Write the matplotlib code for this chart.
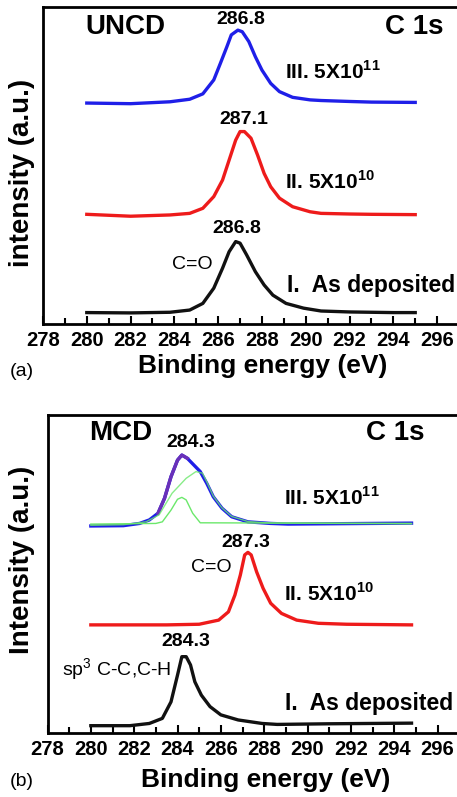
import matplotlib
matplotlib.use("Agg")
import matplotlib.pyplot as plt
from matplotlib.ticker import MultipleLocator

plt.rcParams['font.family'] = ['Liberation Sans', 'DejaVu Sans']
plt.rcParams['mathtext.fontset'] = 'custom'
plt.rcParams['mathtext.rm'] = 'Liberation Sans'
plt.rcParams['mathtext.bf'] = 'Liberation Sans:bold'

# ---- (a) UNCD, values (y in panel fraction) ----
a1_x = [280, 282, 283.8, 284.7, 285.3, 285.8, 286.2, 286.5, 286.8, 287.0, 287.3, 287.7, 288.1, 288.5, 289.1, 289.9, 290.7, 292, 293, 294, 295]
a1_y = [0.036, 0.035, 0.037, 0.044, 0.065, 0.113, 0.176, 0.228, 0.260, 0.255, 0.218, 0.165, 0.123, 0.091, 0.065, 0.050, 0.041, 0.038, 0.037, 0.036, 0.036]

a2_x = [280, 282, 283.8, 284.7, 285.3, 285.8, 286.2, 286.5, 286.8, 287.0, 287.2, 287.5, 287.8, 288.1, 288.4, 288.8, 289.4, 290.2, 290.7, 292, 293, 295]
a2_y = [0.346, 0.340, 0.344, 0.349, 0.365, 0.402, 0.454, 0.517, 0.580, 0.607, 0.607, 0.586, 0.533, 0.475, 0.433, 0.397, 0.370, 0.354, 0.349, 0.347, 0.346, 0.345]

a3_x = [280, 282, 283.8, 284.7, 285.3, 285.8, 286.1, 286.4, 286.6, 286.9, 287.1, 287.4, 287.7, 288.0, 288.4, 288.8, 289.4, 290.2, 290.7, 292, 293, 295]
a3_y = [0.697, 0.695, 0.701, 0.709, 0.726, 0.770, 0.822, 0.875, 0.912, 0.927, 0.922, 0.891, 0.843, 0.801, 0.759, 0.733, 0.715, 0.707, 0.705, 0.702, 0.700, 0.699]

# ---- (b) MCD ----
b1_x = [280, 281.8, 282.7, 283.3, 283.7, 284.0, 284.2, 284.4, 284.6, 284.8, 285.1, 285.5, 286.0, 286.8, 287.9, 288.6, 291, 294.8]
b1_y = [0.023, 0.023, 0.030, 0.046, 0.098, 0.182, 0.240, 0.240, 0.214, 0.161, 0.119, 0.083, 0.057, 0.041, 0.030, 0.027, 0.029, 0.031]

b2_x = [280, 283.5, 285.0, 285.9, 286.35, 286.65, 286.9, 287.1, 287.25, 287.4, 287.65, 287.95, 288.3, 288.8, 289.5, 290.5, 291.8, 294.8]
b2_y = [0.340, 0.340, 0.342, 0.355, 0.381, 0.434, 0.497, 0.560, 0.568, 0.560, 0.507, 0.455, 0.408, 0.376, 0.355, 0.345, 0.342, 0.340]

b3_x = [280, 281.5, 282.25, 282.7, 283.1, 283.4, 283.7, 284.0, 284.2, 284.45, 284.75, 285.05, 285.35, 285.65, 286.05, 286.5, 287.25, 288.3, 289.1, 291.1, 294.8]
b3_y = [0.651, 0.652, 0.659, 0.670, 0.691, 0.738, 0.806, 0.858, 0.874, 0.864, 0.843, 0.822, 0.785, 0.743, 0.707, 0.680, 0.664, 0.659, 0.657, 0.658, 0.660]

# fitted components of curve III
fit1_x = [280, 283.0, 283.3, 283.7, 284.0, 284.2, 284.4, 284.7, 285.05, 294.8]
fit1_y = [0.657, 0.659, 0.664, 0.701, 0.735, 0.741, 0.733, 0.691, 0.661, 0.659]
fit2_x = [280, 281.5, 282.55, 283.15, 283.75, 284.4, 284.85, 285.15, 285.35, 285.65, 286.05, 286.5, 287.25, 288.3, 294.8]
fit2_y = [0.653, 0.655, 0.664, 0.686, 0.754, 0.801, 0.822, 0.817, 0.790, 0.745, 0.708, 0.681, 0.665, 0.660, 0.658]

W, H = 457, 797
fig = plt.figure(figsize=(W / 100, H / 100), dpi=100)
ax1 = fig.add_axes([43 / W, 1 - 324 / H, 416 / W, 317 / H])
ax2 = fig.add_axes([47.5 / W, 1 - 733 / H, 411.7 / W, 318 / H])

black, red, blue, green = '#111111', '#ee1b1b', '#1f1fe8', '#6be86b'
lw = 2.4

ax1.plot(a1_x, a1_y, color=black, lw=lw)
ax1.plot(a2_x, a2_y, color=red, lw=lw)
ax1.plot(a3_x, a3_y, color=blue, lw=lw)

ax2.plot(b1_x, b1_y, color=black, lw=lw)
ax2.plot(b2_x, b2_y, color=red, lw=lw)
ax2.plot(b3_x, b3_y, color=blue, lw=lw)
ax2.plot(b3_x[4:10], b3_y[4:10], color='#6a30b8', lw=lw)
ax2.plot(fit1_x, fit1_y, color=green, lw=1)
ax2.plot(fit2_x, fit2_y, color=green, lw=1, alpha=0.8)

for ax in (ax1, ax2):
    ax.set_xlim(278, 297)
    ax.set_ylim(0, 1)
    ax.set_yticks([])
    ax.xaxis.set_major_locator(MultipleLocator(2))
    ax.xaxis.set_minor_locator(MultipleLocator(1))
    ax.tick_params(axis='x', which='major', direction='in', length=6, width=1.5,
                   labelsize=14.5, pad=5)
    ax.tick_params(axis='x', which='minor', direction='in', length=4, width=1.5)
    for lab in ax.get_xticklabels():
        lab.set_fontweight('bold')
    for s in ax.spines.values():
        s.set_linewidth(2)

# axis titles
xl = dict(fontsize=19, fontweight='bold', ha='center', va='baseline')
yl = dict(fontsize=20, fontweight='bold', ha='center', va='center', rotation=90)
fig.text(263 / W, 1 - 373 / H, 'Binding energy (eV)', **xl)
fig.text(266 / W, 1 - 787 / H, 'Binding energy (eV)', **xl)
fig.text(22.5 / W, 1 - 173 / H, 'intensity (a.u.)', **yl)
fig.text(22.5 / W, 1 - 560 / H, 'Intensity (a.u.)', **yl)

big = dict(fontsize=20, fontweight='bold', va='center')
lab = dict(fontsize=15, fontweight='bold', va='center')
lab1 = dict(fontsize=16.5, fontweight='bold', va='center')
pk = dict(fontsize=14, fontweight='bold', ha='center', va='center')
reg = dict(fontsize=14, va='center')

# panel (a)
ax1.text(279.93, 0.937, 'UNCD', ha='left', **big)
ax1.text(296.3, 0.937, 'C 1s', ha='right', **big)
ax1.text(287.05, 0.962, '286.8', **pk)
ax1.text(289.07, 0.795, r'III. 5X10$^{\bf 11}$', ha='left', **lab)
ax1.text(287.15, 0.644, '287.1', **pk)
ax1.text(289.07, 0.448, r'II. 5X10$^{\bf 10}$', ha='left', **lab)
ax1.text(286.83, 0.30, '286.8', **pk)
ax1.text(284.81, 0.189, 'C=O', ha='center', **reg)
ax1.text(289.16, 0.12, 'I.  As deposited', ha='left', **lab1)

# panel (b)
ax2.text(279.92, 0.943, 'MCD', ha='left', **big)
ax2.text(295.38, 0.943, 'C 1s', ha='right', **big)
ax2.text(284.62, 0.912, '284.3', **pk)
ax2.text(288.9, 0.739, r'III. 5X10$^{\bf 11}$', ha='left', **lab)
ax2.text(287.13, 0.60, '287.3', **pk)
ax2.text(285.58, 0.522, 'C=O', ha='center', **reg)
ax2.text(288.9, 0.44, r'II. 5X10$^{\bf 10}$', ha='left', **lab)
ax2.text(284.39, 0.289, '284.3', **pk)
ax2.text(278.69, 0.20, r'sp$^3$ C-C,C-H', ha='left', **reg)
ax2.text(288.95, 0.094, 'I.  As deposited', ha='left', **lab1)

fig.text(22 / W, 1 - 372 / H, '(a)', fontsize=14, ha='center', va='center')
fig.text(22 / W, 1 - 782 / H, '(b)', fontsize=14, ha='center', va='center')

fig.savefig('out.png', dpi=100)
